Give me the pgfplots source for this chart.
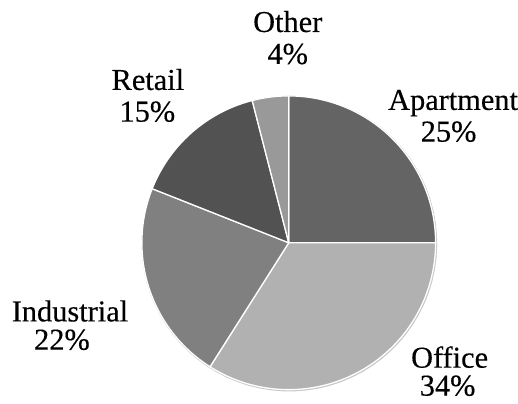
\documentclass[border=0pt]{standalone}
\usepackage{fontspec}
\setmainfont{Liberation Serif}
\newfontfamily\lblfont{Liberation Serif}[FakeBold=0.35]
\usepackage{pgfplots}
\pgfplotsset{compat=1.18}
\definecolor{cApt}{HTML}{646464}
\definecolor{cOff}{HTML}{B1B1B1}
\definecolor{cInd}{HTML}{808080}
\definecolor{cRet}{HTML}{525252}
\definecolor{cOth}{HTML}{999999}
\tikzset{lbl/.style={font=\lblfont\fontsize{30.5}{32}\selectfont, anchor=base, inner sep=0pt, text=black}}
\begin{document}
\begin{tikzpicture}
\begin{axis}[scale only axis, width=518bp, height=404bp,
  xmin=0, xmax=518, ymin=0, ymax=404, hide axis, clip=false,
  samples=80, variable=\t]
% soft rim shadow
\addplot[fill=black!22, draw=none, domain=0:100] ({289.6+148*sin(3.6*t)},{160.2+148*cos(3.6*t)}) -- cycle;
% slices: percentages Apartment 25, Office 34, Industrial 22, Retail 15, Other 4
\addplot[fill=cApt, draw=white, line width=1.3bp, line join=round, domain=0:25]  ({289+147*sin(3.6*t)},{161+147*cos(3.6*t)}) -- (axis cs:289,161) -- cycle;
\addplot[fill=cOff, draw=white, line width=1.3bp, line join=round, domain=25:59] ({289+147*sin(3.6*t)},{161+147*cos(3.6*t)}) -- (axis cs:289,161) -- cycle;
\addplot[fill=cInd, draw=white, line width=1.3bp, line join=round, domain=59:81] ({289+147*sin(3.6*t)},{161+147*cos(3.6*t)}) -- (axis cs:289,161) -- cycle;
\addplot[fill=cRet, draw=white, line width=1.3bp, line join=round, domain=81:96] ({289+147*sin(3.6*t)},{161+147*cos(3.6*t)}) -- (axis cs:289,161) -- cycle;
\addplot[fill=cOth, draw=white, line width=1.3bp, line join=round, domain=96:100] ({289+147*sin(3.6*t)},{161+147*cos(3.6*t)}) -- (axis cs:289,161) -- cycle;
\node[lbl] at (axis cs:288,372) {Other};
\node[lbl] at (axis cs:288,340) {4\%};
\node[lbl] at (axis cs:453.5,294) {Apartment};
\node[lbl] at (axis cs:449,262.3) {25\%};
\node[lbl] at (axis cs:148,314) {Retail};
\node[lbl] at (axis cs:147.5,282.3) {15\%};
\node[lbl] at (axis cs:70,82.3) {Industrial};
\node[lbl] at (axis cs:62,54) {22\%};
\node[lbl] at (axis cs:450,36) {Office};
\node[lbl] at (axis cs:448,8) {34\%};
\end{axis}
\path (current axis.south west) rectangle (current axis.north east);
\end{tikzpicture}
\end{document}
